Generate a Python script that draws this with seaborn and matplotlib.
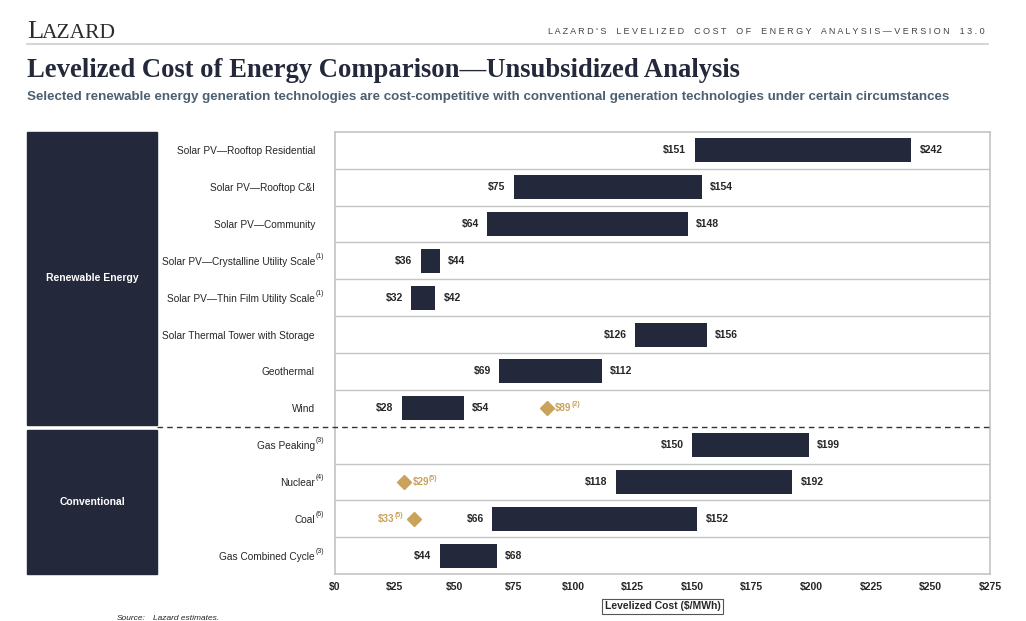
import numpy as np
import pandas as pd
import seaborn as sns
import matplotlib.pyplot as plt
from matplotlib.patches import Rectangle
from matplotlib.lines import Line2D
import matplotlib.transforms as mtransforms

# data
techs = ['Solar PV—Rooftop Residential', 'Solar PV—Rooftop C&I', 'Solar PV—Community',
         'Solar PV—Crystalline Utility Scale', 'Solar PV—Thin Film Utility Scale',
         'Solar Thermal Tower with Storage', 'Geothermal', 'Wind',
         'Gas Peaking', 'Nuclear', 'Coal', 'Gas Combined Cycle']
notes = ['', '', '', '(1)', '(1)', '', '', '', '(3)', '(4)', '(6)', '(3)']
low = [151, 75, 64, 36, 32, 126, 69, 28, 150, 118, 66, 44]
high = [242, 154, 148, 44, 42, 156, 112, 54, 199, 192, 152, 68]
marker_tech = ['Wind', 'Nuclear', 'Coal']
marker_val = [89, 29, 33]
marker_note = ['(2)', '(5)', '(5)']
xticks = [0, 25, 50, 75, 100, 125, 150, 175, 200, 225, 250, 275]

NAVY = '#23283b'
GOLD = '#c9a25c'
GRID = '#c4c4c4'

sns.set_style('white')
plt.rcParams['font.family'] = ['Liberation Sans', 'DejaVu Sans']

df = pd.DataFrame({'tech': techs, 'low': low, 'high': high})
df['span'] = df['high'] - df['low']

fig = plt.figure(figsize=(10.26, 6.21), dpi=100)
W, H = 1026, 621
ax = fig.add_axes([335 / W, 1 - 574 / H, (990 - 335) / W, (574 - 132) / H])

sns.barplot(data=df, x='span', y='tech', left=df['low'].values, color=NAVY,
            width=0.65, saturation=1, edgecolor=NAVY, linewidth=0, ax=ax, zorder=3)

ax.set_xlim(0, 275)
ax.set_ylim(11.5, -0.5)
ax.set_xticks(xticks)
ax.set_xticklabels(['$%d' % v for v in xticks], fontsize=7.5, fontweight='bold')
ax.tick_params(axis='x', length=0, pad=6)
ax.set_yticks(range(len(techs)))
ax.set_yticklabels(techs, fontsize=7.3)
ax.tick_params(axis='y', length=0, pad=14.4)
ax.set_xlabel('')
ax.set_ylabel('')
for s in ax.spines.values():
    s.set_color(GRID)
    s.set_linewidth(1.2)

# footnote marks next to category names
lbl_tr = mtransforms.blended_transform_factory(fig.transFigure, ax.transData)
for i, n in enumerate(notes):
    if n:
        fig.text(316 / W, 0, n, transform=lbl_tr, fontsize=5, ha='left',
                 va='center').set_y(i - 0.12)

for yb in np.arange(0.5, 11, 1):
    if yb == 7.5:
        continue
    ax.axhline(yb, color=GRID, lw=1, zorder=1)

# value labels
for i, (lo, hi) in enumerate(zip(low, high)):
    ax.text(lo - 3.5, i, '$%d' % lo, ha='right', va='center', fontsize=7.5, fontweight='bold')
    ax.text(hi + 3.5, i, '$%d' % hi, ha='left', va='center', fontsize=7.5, fontweight='bold')

# diamond markers
for t, v, n in zip(marker_tech, marker_val, marker_note):
    i = techs.index(t)
    ax.plot(v, i, marker='D', color=GOLD, markersize=7, zorder=4, clip_on=False)
    if t == 'Coal':
        ax.text(v - 4.3, i - 0.1, n, ha='right', va='center', fontsize=5, fontweight='bold', color=GOLD)
        ax.text(v - 7.9, i, '$%d' % v, ha='right', va='center', fontsize=7, fontweight='bold', color=GOLD)
    else:
        ax.text(v + 3.5, i, '$%d' % v, ha='left', va='center', fontsize=7, fontweight='bold', color=GOLD)
        ax.text(v + 10.5, i - 0.1, n, ha='left', va='center', fontsize=5, fontweight='bold', color=GOLD)

# group panels on the left
x0, x1 = 27 / W, 157 / W
for (ya, yb, name) in [(-0.5, 7.45, 'Renewable Energy'), (7.6, 11.5, 'Conventional')]:
    fig.add_artist(Rectangle((x0, ya), x1 - x0, yb - ya, transform=lbl_tr, color=NAVY, zorder=0))
    fig.text((x0 + x1) / 2, 0, name, transform=lbl_tr, ha='center', va='center',
             color='white', fontsize=7.5, fontweight='bold').set_y((ya + yb) / 2)
fig.add_artist(Line2D([x1, 990 / W], [7.5, 7.5], transform=lbl_tr, color='#333333',
                      lw=1, ls=(0, (4, 3))))

# axis label in box
ax.text(0.5, -0.073, 'Levelized Cost ($/MWh)', transform=ax.transAxes, ha='center', va='center',
        fontsize=7.5, fontweight='bold',
        bbox=dict(boxstyle='square,pad=0.25', fc='white', ec='#555555', lw=0.8))

# header
fig.text(27 / W, 1 - 38 / H, 'L', fontsize=19, family='Liberation Serif', color='#2b2b2b', va='baseline')
fig.text(42 / W, 1 - 38 / H, 'AZARD', fontsize=15.5, family='Liberation Serif', color='#2b2b2b', va='baseline')
hdr = "LAZARD'S LEVELIZED COST OF ENERGY ANALYSIS—VERSION 13.0"
fig.text(985 / W, 1 - 34 / H, ' '.join(hdr).replace('   ', '    '), fontsize=6.5, color='#444444',
         ha='right', va='baseline')
fig.add_artist(Line2D([27 / W, 988 / W], [1 - 44 / H, 1 - 44 / H], color='#d6d6d6', lw=1.5))
fig.text(27 / W, 1 - 77 / H, 'Levelized Cost of Energy Comparison—Unsubsidized Analysis',
         fontsize=19.2, fontweight='bold', family='Liberation Serif', color='#23283b', va='baseline')
fig.text(27 / W, 1 - 100 / H,
         'Selected renewable energy generation technologies are cost-competitive with conventional generation technologies under certain circumstances',
         fontsize=9.6, fontweight='bold', color='#4d6070', va='baseline')
fig.text(117 / W, 1 - 620 / H, 'Source:', fontsize=6, style='italic', va='baseline')
fig.text(153 / W, 1 - 620 / H, 'Lazard estimates.', fontsize=6, style='italic', va='baseline')

fig.savefig('out.png', dpi=100)
